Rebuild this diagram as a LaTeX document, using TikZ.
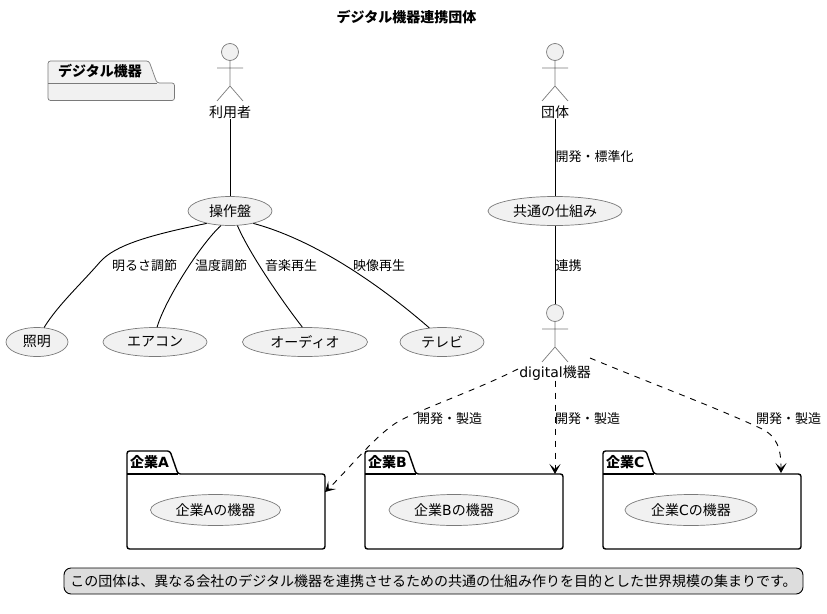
\documentclass[tikz,border=0pt]{standalone}
\usepackage{fontspec}
\setmainfont{DejaVu Sans}
\newfontfamily\cjk{Noto Sans CJK JP}
\usetikzlibrary{arrows.meta,shapes.geometric}
\definecolor{fillgray}{HTML}{F1F1F1}
\definecolor{linegray}{HTML}{7A7A7A}
\definecolor{notegray}{HTML}{DDDDDD}
\tikzset{
  txt/.style={inner sep=0pt,font=\fontsize{14}{16}\selectfont\cjk},
  lbl/.style={inner sep=0pt,anchor=west,font=\fontsize{13}{15}\selectfont\cjk},
  usecase/.style={ellipse,draw=linegray,fill=fillgray,line width=.7pt,inner sep=0pt,minimum height=29pt,font=\fontsize{14}{16}\selectfont\cjk},
  actorline/.style={draw=linegray,line width=.7pt},
  actorhead/.style={circle,draw=linegray,fill=fillgray,line width=.7pt,minimum size=17pt,inner sep=0pt},
  conn/.style={draw=black,line width=.9pt},
  dep/.style={conn,dash pattern=on 6pt off 6pt,-{Stealth[length=10pt,width=11pt,inset=5pt]}},
  pkgbig/.style={draw=black,line width=1.4pt,rounded corners=2.5pt},
  pkgsmall/.style={draw=linegray,fill=fillgray,line width=.7pt,rounded corners=2.5pt},
  pkgname/.style={inner sep=0pt,anchor=west,font=\fontsize{14}{16}\selectfont\cjk\bfseries},
}
\newcommand{\actorfig}[4]{% name, x, head-y, label
  \node[actorhead] (#1-head) at (#2,#3) {};
  \draw[actorline] (#1-head.south) -- (#2,#3+34) coordinate (#1-hip)
    (#2-13,#3+16) -- (#2+13,#3+16)
    (#2-13,#3+49) -- (#1-hip) -- (#2+13,#3+49);
  \node[txt] (#1) at (#2,#3+60) {#4};
}
\newcommand{\pkgfig}[3]{% name, x0, title
  \draw[pkgbig] (#2,549) -- (#2,451) -- (#2+43,451) -- (#2+51,474) -- (#2+198,474) -- (#2+198,549) -- cycle;
  \draw[pkgbig] (#2,474) -- (#2+51,474);
  \coordinate (#1) at (#2+99,474);
  \node[pkgname] (#1-name) at (#2+3,462.5) {#3};
}
\begin{document}
\begin{tikzpicture}[x=1pt,y=-1pt]
\useasboundingbox (0,0) rectangle (827,613);
\node[txt,font=\fontsize{14}{16}\selectfont\cjk\bfseries] (title) at (406.5,17) {デジタル機器連携団体};

% small package
\draw[pkgsmall] (48,100.5) -- (48,61) -- (149,61) -- (157,83) -- (174.5,83) -- (174.5,100.5) -- cycle;
\draw[draw=linegray,line width=.7pt] (48,83) -- (157,83);
\node[pkgname] (pkname) at (58,71.5) {デジタル機器};

% actors
\actorfig{user}{230}{52}{利用者}
\actorfig{org}{555}{52}{団体}
\actorfig{dev}{555}{313}{{\fontspec{DejaVu Sans}digital}機器}

% use cases
\node[usecase,minimum width=84pt] (op) at (230,211) {操作盤};
\node[usecase,minimum width=134pt] (common) at (555,211) {共通の仕組み};
\node[usecase,minimum width=62pt] (light) at (37,342) {照明};
\node[usecase,minimum width=104pt] (ac) at (155,342) {エアコン};
\node[usecase,minimum width=125pt] (audio) at (305,342) {オーディオ};
\node[usecase,minimum width=84pt] (tv) at (442,342) {テレビ};

% connectors top
\draw[conn] (user.south) -- (op.north);
\draw[conn] (org.south) -- (common.north);
\draw[conn] (common.south) -- (dev-head.north);
\node[lbl] (l1) at (555.5,157) {開発・標準化};
\node[lbl] (l2) at (555.5,266) {連携};

\draw[conn] (op.208) .. controls (150,235) and (115,245) .. (100,262) .. controls (80,285) and (58,305) .. (light.64);
\draw[conn] (op.238) .. controls (200,245) and (165,300) .. (ac.82);
\draw[conn] (op.297) .. controls (250,255) and (285,305) .. (audio.100);
\draw[conn] (op.332) .. controls (315,240) and (380,285) .. (tv.132);
\node[lbl] (l3) at (112,266) {明るさ調節};
\node[lbl] (l4) at (195,266) {温度調節};
\node[lbl] (l5) at (265,266) {音楽再生};
\node[lbl] (l6) at (353,266) {映像再生};

% packages
\pkgfig{pa}{127}{企業{\fontspec{DejaVu Sans}\bfseries A}}
\pkgfig{pb}{365}{企業{\fontspec{DejaVu Sans}\bfseries B}}
\pkgfig{pc}{603}{企業{\fontspec{DejaVu Sans}\bfseries C}}
\node[usecase,minimum width=130pt,minimum height=31pt] (ua) at (215.5,510) {企業{\fontspec{DejaVu Sans}A}の機器};
\node[usecase,minimum width=130pt,minimum height=31pt] (ub) at (454,510) {企業{\fontspec{DejaVu Sans}B}の機器};
\node[usecase,minimum width=132pt,minimum height=31pt] (uc) at (691,510) {企業{\fontspec{DejaVu Sans}C}の機器};

% dashed
\coordinate (da) at (325,492);
\coordinate (dc) at (781,473);
\coordinate (ds) at (518,369);
\coordinate (dr) at (590,358);
\draw[dep] (ds) .. controls (480,388) and (440,402) .. (405,418) .. controls (380,429) and (352,466) .. (da);
\draw[dep] (dev.south) -- (dev.south |- pb);
\draw[dep] (dr) .. controls (650,383) and (710,405) .. (760,428) .. controls (778,436) and (781,450) .. (dc);
\node[lbl] (l7) at (417,419) {開発・製造};
\node[lbl] (l8) at (555,419) {開発・製造};
\node[lbl] (l9) at (756,419) {開発・製造};

% note
\node[draw=black,fill=notegray,line width=.9pt,rounded corners=7pt,minimum width=739pt,minimum height=26pt,inner sep=0pt,font=\fontsize{14}{16}\selectfont\cjk] (note) at (433.5,581) {この団体は、異なる会社のデジタル機器を連携させるための共通の仕組み作りを目的とした世界規模の集まりです。};
\end{tikzpicture}
\end{document}
